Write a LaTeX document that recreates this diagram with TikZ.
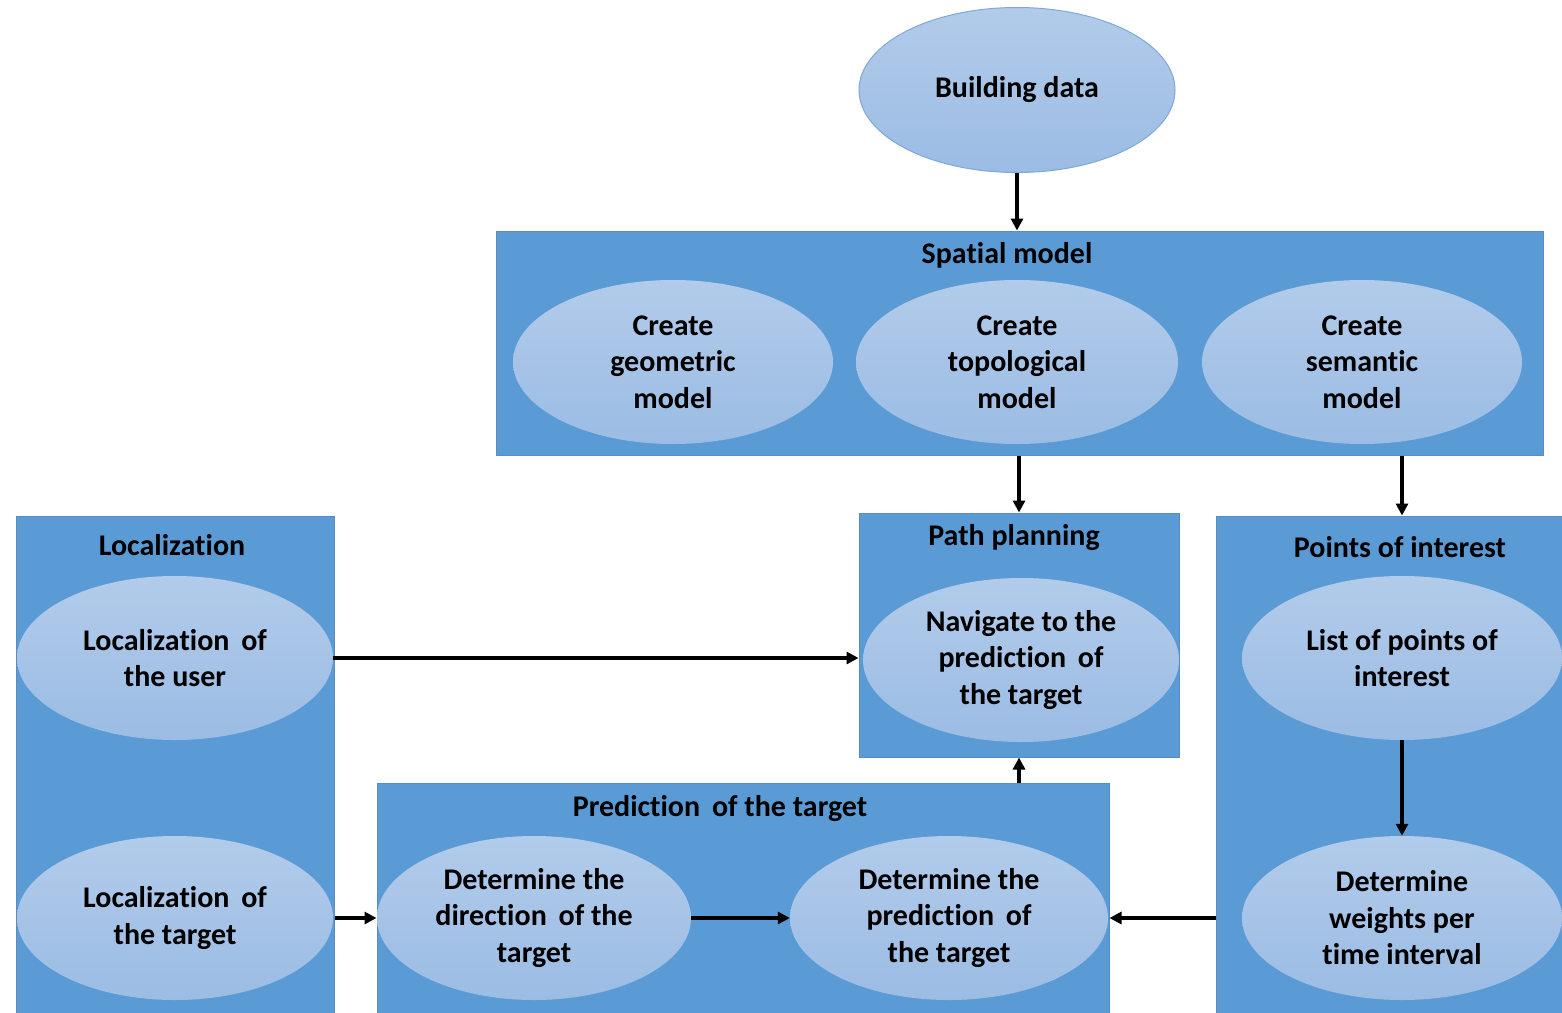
\documentclass[tikz,border=0pt]{standalone}
\usepackage{fontspec}
\setmainfont{Carlito}[Ligatures=NoCommon]
\usetikzlibrary{shapes.geometric,arrows.meta}
\definecolor{boxblue}{HTML}{5B9BD5}
\definecolor{boxedge}{HTML}{5A8CC0}
\definecolor{elltop}{HTML}{B2CBEA}
\definecolor{ellbot}{HTML}{9BBCE4}
\definecolor{elledge}{HTML}{7EA8DA}
\tikzset{
  container/.style={rectangle, fill=boxblue, draw=boxedge, line width=1pt, inner sep=0pt},
  stage/.style={ellipse, top color=elltop, bottom color=ellbot, inner sep=0pt,
    minimum width=318pt, minimum height=164pt, align=center,
    font=\bfseries\fontsize{30}{36.5}\selectfont},
  heading/.style={font=\bfseries\fontsize{30}{34}\selectfont, inner sep=0pt},
  flow/.style={line width=3.5pt, -{Triangle[length=12pt,width=12pt]}}
}
\begin{document}
\begin{tikzpicture}[x=1pt,y=-1pt]
\clip (0,0) rectangle (1562,1012);
\fill[white] (0,0) rectangle (1562,1012);

% containers
\node[container, minimum width=1047pt, minimum height=224pt] (spatial) at (1019.5,343) {};
\node[container, minimum width=320pt, minimum height=244pt] (pp) at (1019,635) {};
\node[container, minimum width=318pt, minimum height=520pt] (loc) at (175,776) {};
\node[container, minimum width=370pt, minimum height=520pt] (poi) at (1401,776) {};
\node[container, minimum width=732pt, minimum height=250pt] (pred) at (743,908) {};

% container headings
\node[heading] (spatialtitle) at (1007,255) {Spatial model};
\node[heading] (pptitle) at (1014,538) {Path planning};
\node[heading] (loctitle) at (172,545) {Localization};
\node[heading] (poititle) at (1400,547) {Points of interest};
\node[heading] (predtitle) at (720,809) {Prediction\, of the target};

% source
\node[stage, draw=elledge, line width=1pt, minimum width=316pt, minimum height=165pt] (bd) at (1017,90) {Building data};

% spatial model steps
\node[stage, minimum width=320pt] (geo) at (673,362) {Create\\geometric\\model};
\node[stage, minimum width=322pt] (topo) at (1017,362) {Create\\topological\\model};
\node[stage, minimum width=320pt] (sem) at (1362,362) {Create\\semantic\\model};

% path planning
\node[stage, minimum width=316pt] (nav) at (1021,660) {Navigate to the\\prediction\, of\\the target};

% localization
\node[stage, minimum width=316pt] (locuser) at (175,658) {Localization\, of\\the user};
\node[stage, minimum width=316pt] (loctarget) at (175,918) {Localization\, of\\the target};

% points of interest
\node[stage, minimum width=320pt] (listpoi) at (1402,658) {List of points of\\interest};
\node[stage, minimum width=320pt] (weights) at (1402,918) {Determine\\weights per\\time interval};

% prediction of the target
\node[stage, minimum width=314pt] (dir) at (534,918) {Determine the\\direction\, of the\\target};
\node[stage, minimum width=318pt] (predict) at (949,918) {Determine the\\prediction\, of\\the target};

% connectors
\draw[flow] (bd.south) -- (spatial.north -| bd.south);
\draw[flow] (spatial.south -| pp.north) -- (pp.north);
\draw[flow] (spatial.south -| listpoi.north) -- (poi.north -| listpoi.north);
\draw[flow] (locuser.east) -- (locuser.east -| pp.west);
\draw[flow] (loc.east |- loctarget.east) -- (pred.west |- loctarget.east);
\draw[flow] (dir.east) -- (predict.west);
\draw[flow] (listpoi.south) -- (weights.north);
\draw[flow] (poi.west |- weights.west) -- (pred.east |- weights.west);
\draw[flow] (pred.north -| pp.south) -- (pp.south);
\end{tikzpicture}
\end{document}
